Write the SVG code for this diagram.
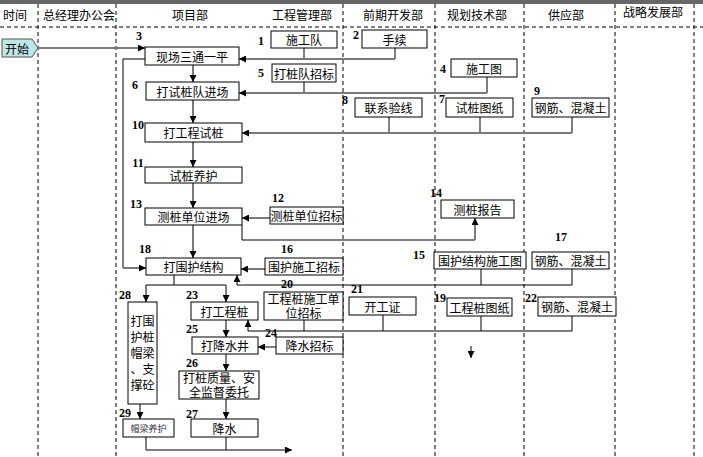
<svg xmlns="http://www.w3.org/2000/svg" width="703" height="457" viewBox="0 0 703 457">
<style>
.bg{fill:#fff}
.lane{stroke:#000;stroke-width:1;stroke-dasharray:4 3;fill:none}
.hd{font-family:"Noto Sans CJK SC","Liberation Sans",sans-serif;font-size:12px;text-anchor:middle;fill:#000}
.box{fill:#fff;stroke:#000;stroke-width:1}
.t{font-family:"Noto Sans CJK SC","Liberation Sans",sans-serif;font-size:12px;text-anchor:middle;dominant-baseline:central;fill:#000}
.t2{font-family:"Noto Sans CJK SC","Liberation Sans",sans-serif;font-size:12px;text-anchor:middle;fill:#000}
.num{font-family:"Liberation Serif",serif;font-weight:bold;font-size:12px;text-anchor:middle;fill:#000}
.g{stroke:#7a7a7a;stroke-width:2;fill:none}
.k{stroke:#000;stroke-width:1;fill:none}
</style>
<defs>
<marker id="a" viewBox="0 0 8 8" refX="8" refY="4" markerWidth="7" markerHeight="7" orient="auto" markerUnits="userSpaceOnUse">
<path d="M0,0 L8,4 L0,8 z" fill="#000"/>
</marker>
</defs>
<rect class="bg" x="0" y="0" width="703" height="457"/>
<rect x="0" y="0" width="703" height="4" fill="#666"/>
<g id="lanes">
<line class="lane" x1="0" y1="27" x2="703" y2="27"/>
<line class="lane" x1="38" y1="4" x2="38" y2="457"/>
<line class="lane" x1="116" y1="4" x2="116" y2="457"/>
<line class="lane" x1="343" y1="4" x2="343" y2="457"/>
<line class="lane" x1="435" y1="4" x2="435" y2="457"/>
<line class="lane" x1="524" y1="4" x2="524" y2="457"/>
<line class="lane" x1="615" y1="4" x2="615" y2="457"/>
<line class="lane" x1="694" y1="4" x2="694" y2="457"/>
</g>
<g id="headers">
<text class="hd" x="15" y="20">时间</text>
<text class="hd" x="79" y="20">总经理办公会</text>
<text class="hd" x="190" y="20">项目部</text>
<text class="hd" x="302" y="20">工程管理部</text>
<text class="hd" x="393" y="20">前期开发部</text>
<text class="hd" x="477" y="20">规划技术部</text>
<text class="hd" x="566" y="20">供应部</text>
<text class="hd" x="653" y="17">战略发展部</text>
</g>
<g id="connectors">
<path class="g" d="M38,48 H145" stroke-width="1.5" marker-end="url(#a)"/>
<path class="k" d="M145,59 H123 V268"/>
<path class="g" d="M123,268 H146" marker-end="url(#a)"/>
<path class="k" d="M304,48 V59"/>
<path class="k" d="M395,48 V59"/>
<path class="g" d="M395,59 H239" marker-end="url(#a)"/>
<path class="g" d="M193,65 V82" marker-end="url(#a)"/>
<path class="k" d="M304,82 V93"/>
<path class="k" d="M487,77 V93"/>
<path class="g" d="M487,93 H239" marker-end="url(#a)"/>
<path class="g" d="M193,100 V123" marker-end="url(#a)"/>
<path class="k" d="M389,117 V133 M480,117 V133 M572,117 V133"/>
<path class="g" d="M572,133 H242" marker-end="url(#a)"/>
<path class="g" d="M193,142 V167" marker-end="url(#a)"/>
<path class="g" d="M193,183 V208" marker-end="url(#a)"/>
<path class="g" d="M270,218 H242" marker-end="url(#a)"/>
<path class="k" d="M242,225 V240 H475"/>
<path class="g" d="M475,240 V218" marker-end="url(#a)"/>
<path class="g" d="M193,225 V258" marker-end="url(#a)"/>
<path class="g" d="M265,269 H241" marker-end="url(#a)"/>
<path class="k" d="M481,269 V285 M572,269 V285"/>
<path class="k" d="M572,285 H237 V275" marker-end="url(#a)"/>
<path class="k" d="M174,275 V285 M146,285 H226"/>
<path class="k" d="M146,285 V302" marker-end="url(#a)"/>
<path class="k" d="M226,285 V302" marker-end="url(#a)"/>
<path class="k" d="M304,320 V331 M383,315 V331 M481,316 V331 M572,316 V331"/>
<path class="k" d="M572,331 H248 V320" marker-end="url(#a)"/>
<path class="k" d="M276,347 H258" marker-end="url(#a)"/>
<path class="k" d="M226,320 V337" marker-end="url(#a)"/>
<path class="k" d="M226,354 V371" marker-end="url(#a)"/>
<path class="k" d="M226,399 V419" marker-end="url(#a)"/>
<path class="k" d="M140,404 V419" marker-end="url(#a)"/>
<path class="k" d="M146,437 V450 H292" marker-end="url(#a)"/>
<path class="k" d="M226,437 V450"/>
<path class="k" d="M471,346 V358" marker-end="url(#a)"/>
</g>
<g id="start">
<polygon points="2,39 32,39 38,48 32,57 2,57" fill="#bfe6e6" stroke="#555" stroke-width="1"/>
<text class="t" x="17" y="48">开始</text>
</g>
<g id="n1"><rect class="box" x="271" y="31" width="66" height="17"/><text class="t" x="304" y="39.5">施工队</text><text class="num" x="261" y="45">1</text></g>
<g id="n2"><rect class="box" x="362" y="30" width="65" height="18"/><text class="t" x="394.5" y="39">手续</text><text class="num" x="356" y="39">2</text></g>
<g id="n3"><rect class="box" x="145" y="47" width="94" height="18"/><text class="t" x="192" y="56">现场三通一平</text><text class="num" x="139" y="40">3</text></g>
<g id="n4"><rect class="box" x="451" y="59" width="66" height="18"/><text class="t" x="484" y="68">施工图</text><text class="num" x="443" y="73">4</text></g>
<g id="n5"><rect class="box" x="272" y="64" width="64" height="18"/><text class="t" x="304" y="73">打桩队招标</text><text class="num" x="261" y="77">5</text></g>
<g id="n6"><rect class="box" x="146" y="82" width="93" height="18"/><text class="t" x="192.5" y="91">打试桩队进场</text><text class="num" x="135" y="89">6</text></g>
<g id="n7"><rect class="box" x="446" y="98" width="67" height="19"/><text class="t" x="479.5" y="107.5">试桩图纸</text><text class="num" x="442" y="103">7</text></g>
<g id="n8"><rect class="box" x="355" y="98" width="67" height="19"/><text class="t" x="388.5" y="107.5">联系验线</text><text class="num" x="345" y="104">8</text></g>
<g id="n9"><rect class="box" x="532" y="98" width="77" height="19"/><text class="t" x="570.5" y="107.5">钢筋、混凝土</text><text class="num" x="537" y="95">9</text></g>
<g id="n10"><rect class="box" x="145" y="123" width="97" height="19"/><text class="t" x="193.5" y="132.5">打工程试桩</text><text class="num" x="138" y="129">10</text></g>
<g id="n11"><rect class="box" x="145" y="167" width="97" height="16"/><text class="t" x="193.5" y="175">试桩养护</text><text class="num" x="138" y="167">11</text></g>
<g id="n12"><rect class="box" x="270" y="207" width="73" height="17"/><text class="t" x="306.5" y="215.5">测桩单位招标</text><text class="num" x="278" y="202">12</text></g>
<g id="n13"><rect class="box" x="145" y="208" width="97" height="17"/><text class="t" x="193.5" y="216.5">测桩单位进场</text><text class="num" x="136" y="208">13</text></g>
<g id="n14"><rect class="box" x="441" y="200" width="73" height="18"/><text class="t" x="477.5" y="209">测桩报告</text><text class="num" x="436" y="197">14</text></g>
<g id="n15"><rect class="box" x="434" y="252" width="92" height="17"/><text class="t" x="480" y="260.5">围护结构施工图</text><text class="num" x="419" y="259">15</text></g>
<g id="n16"><rect class="box" x="265" y="258" width="78" height="17"/><text class="t" x="304" y="266.5">围护施工招标</text><text class="num" x="287" y="253">16</text></g>
<g id="n17"><rect class="box" x="532" y="252" width="77" height="17"/><text class="t" x="570.5" y="260.5">钢筋、混凝土</text><text class="num" x="561" y="241">17</text></g>
<g id="n18"><rect class="box" x="146" y="258" width="95" height="17"/><text class="t" x="193.5" y="266.5">打围护结构</text><text class="num" x="145" y="253">18</text></g>
<g id="n19"><rect class="box" x="447" y="298" width="65" height="18"/><text class="t" x="479.5" y="307">工程桩图纸</text><text class="num" x="440" y="302">19</text></g>
<g id="n20"><rect class="box" x="264" y="292" width="79" height="28"/><text class="t2" x="303.5" y="304"><tspan x="303.5">工程桩施工单</tspan><tspan x="303.5" dy="13.5">位招标</tspan></text><text class="num" x="287" y="288">20</text></g>
<g id="n21"><rect class="box" x="349" y="297" width="67" height="18"/><text class="t" x="382.5" y="306">开工证</text><text class="num" x="357" y="293">21</text></g>
<g id="n22"><rect class="box" x="538" y="297" width="78" height="19"/><text class="t" x="577" y="306.5">钢筋、混凝土</text><text class="num" x="531" y="302">22</text></g>
<g id="n23"><rect class="box" x="191" y="302" width="67" height="18"/><text class="t" x="224.5" y="311">打工程桩</text><text class="num" x="192" y="299">23</text></g>
<g id="n24"><rect class="box" x="276" y="337" width="67" height="17"/><text class="t" x="309.5" y="345.5">降水招标</text><text class="num" x="271" y="337">24</text></g>
<g id="n25"><rect class="box" x="192" y="337" width="66" height="17"/><text class="t" x="225" y="345.5">打降水井</text><text class="num" x="192" y="333">25</text></g>
<g id="n26"><rect class="box" x="179" y="371" width="80" height="28"/><text class="t2" x="219" y="383"><tspan x="219">打桩质量、安</tspan><tspan x="219" dy="13.5">全监督委托</tspan></text><text class="num" x="192" y="367">26</text></g>
<g id="n27"><rect class="box" x="191" y="419" width="67" height="18"/><text class="t" x="224.5" y="428">降水</text><text class="num" x="192" y="418">27</text></g>
<g id="n28"><rect class="box" x="128" y="302" width="29" height="102"/>
<text class="t2" x="142.5" y="326"><tspan x="142.5">打围</tspan><tspan x="142.5" dy="16">护桩</tspan><tspan x="142.5" dy="16">帽梁</tspan><tspan x="142.5" dy="16">、支</tspan><tspan x="142.5" dy="16">撑砼</tspan></text>
<text class="num" x="125" y="299">28</text></g>
<g id="n29"><rect class="box" x="123" y="419" width="51" height="18"/><text class="t" x="148.5" y="428" style="font-size:9px;fill:#334">帽梁养护</text><text class="num" x="125" y="417">29</text></g>
</svg>
